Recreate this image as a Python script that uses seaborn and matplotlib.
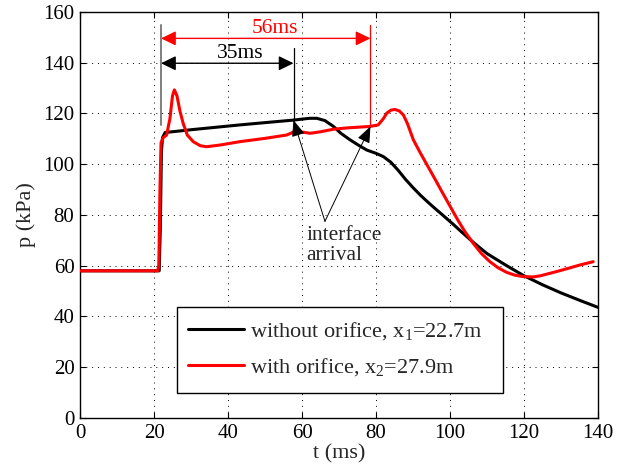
import numpy as np
import pandas as pd
import matplotlib
matplotlib.use("Agg")
import matplotlib.pyplot as plt
import seaborn as sns
from matplotlib.patches import Rectangle

# Pressure history without orifice (gauge at x1 = 22.7 m)
t_black = [0, 21.4, 21.7, 22.0, 22.3, 23.0, 30.0, 43.2, 50.0, 57.7, 59.5, 62.0, 64.0,
           66.2, 68.5, 70.5, 73.0, 75.5, 77.5, 80.0, 82.0, 84.0, 86.0, 88.0, 90.0,
           92.0, 94.0, 96.0, 98.0, 100.9, 103.0, 106.3, 110.0, 115.0, 119.8, 125.0,
           130.0, 135.0, 140.0]
p_black = [58, 58, 75, 105, 110.5, 112.5, 113.6, 115.5, 116.4, 117.4, 117.7, 118.1, 118.1,
           117.2, 114.9, 112.2, 109.6, 107.3, 105.6, 104.3, 103.0, 100.8, 97.6, 94.0, 90.8,
           87.8, 85.1, 82.5, 80.0, 76.3, 73.5, 69.2, 64.8, 60.3, 56.2, 52.5,
           49.3, 46.4, 43.6]

# Pressure history with orifice (gauge at x2 = 27.9 m)
t_red = [0, 21.0, 21.3, 21.6, 21.9, 22.5, 23.4, 24.3, 25.0, 25.5, 26.2, 27.0, 27.9, 29.0,
         30.6, 32.5, 34.2, 38.0, 43.2, 50.0, 55.8, 57.0, 57.7, 59.5, 62.2, 65.0, 68.5,
         72.0, 78.4, 80.6, 82.0, 82.9, 84.0, 85.1, 86.3, 87.4, 88.5, 90.1, 92.0, 94.0,
         96.0, 98.0, 100.0, 102.0, 104.0, 106.3, 108.5, 110.8, 113.0, 115.3, 117.5,
         119.8, 122.5, 124.3, 128.8, 132.0, 135.1, 138.7]
p_red = [58, 58, 60, 90, 108.5, 110.5, 111.5, 118, 127, 129.3, 127, 121, 116, 111.5,
         108.9, 107.3, 106.9, 107.6, 108.9, 110.2, 111.5, 112.2, 112.8, 112.8, 112.2, 112.8, 113.8,
         114.3, 114.9, 115.5, 118, 120.1, 121.3, 121.6, 121.0, 119.4, 116, 109.6, 104.4, 99.2,
         94.0, 88.7, 83.5, 78.3, 73.5, 68.8, 64.8, 61.6, 59.2, 57.4, 56.3,
         55.7, 55.6, 56.0, 57.7, 59.0, 60.3, 61.6]

labels = ["without orifice, x$_1$=22.7m", "with orifice, x$_2$=27.9m"]
x_ticks = [0, 20, 40, 60, 80, 100, 120, 140]
y_ticks = [0, 20, 40, 60, 80, 100, 120, 140, 160]

# Arrival times of the shock and the interface
t_shock = 21.9
t_if1, p_if1 = 57.7, 117.4
t_if2, p_if2 = 78.5, 114.9

sns.set_style("ticks")
plt.rcParams["font.family"] = ["Liberation Serif", "DejaVu Serif"]
plt.rcParams["mathtext.fontset"] = "custom"
plt.rcParams["mathtext.rm"] = "Liberation Serif"
plt.rcParams["mathtext.it"] = "Liberation Serif:italic"
FS = 15

df_black = pd.DataFrame({"t": t_black, "p": p_black})
df_red = pd.DataFrame({"t": t_red, "p": p_red})

fig = plt.figure(figsize=(6.17, 4.72), dpi=100)
ax = fig.add_axes([0.1297, 0.1144, 0.8395, 0.8602])

sns.lineplot(data=df_black, x="t", y="p", color="black", lw=2.2, ax=ax,
             label=labels[0], zorder=3)
sns.lineplot(data=df_red, x="t", y="p", color="red", lw=2.2, ax=ax,
             label=labels[1], zorder=4)

ax.set_xlim(0, 140)
ax.set_ylim(0, 160)
ax.set_xticks(x_ticks)
ax.set_yticks(y_ticks)
ax.set_xlabel("t (ms)", fontsize=FS + 1, labelpad=1)
ax.set_ylabel("p (kPa)", fontsize=FS + 1, labelpad=5)
ax.tick_params(direction="in", length=4, width=0.8, labelsize=FS, pad=4,
               top=True, right=True, colors="black")
for s in ax.spines.values():
    s.set_linewidth(1.0)
    s.set_color("black")
ax.grid(True, color="black", linestyle=(0, (1, 5)), linewidth=0.7)

# Vertical markers
ax.plot([t_shock, t_shock], [115.5, 155], color="#7f7f7f", lw=1.4, zorder=5)
ax.plot([t_if1, t_if1], [p_if1, 145.7], color="black", lw=0.9, zorder=5)
ax.plot([t_if2, t_if2], [p_if2, 155], color="red", lw=0.9, zorder=5)

# Duration arrows
ax.annotate("", xy=(t_shock, 149.6), xytext=(t_if2, 149.6),
            arrowprops=dict(arrowstyle="<|-|>,head_length=0.45,head_width=0.22",
                            color="red", lw=1.0, shrinkA=0, shrinkB=0,
                            mutation_scale=20), zorder=6)
ax.text(52.7, 153.6, "56ms", color="red", fontsize=FS + 0.5, ha="center", va="center")
ax.annotate("", xy=(t_shock, 139.8), xytext=(t_if1, 139.8),
            arrowprops=dict(arrowstyle="<|-|>,head_length=0.45,head_width=0.22",
                            color="black", lw=1.0, shrinkA=0, shrinkB=0,
                            mutation_scale=20), zorder=6)
ax.text(43.2, 143.8, "35ms", color="black", fontsize=FS + 0.5, ha="center", va="center")

# Interface arrival pointers
for tx, px in [(t_if1, p_if1), (t_if2, p_if2)]:
    ax.annotate("", xy=(tx, px), xytext=(66.2, 77.5),
                arrowprops=dict(arrowstyle="-|>,head_length=0.5,head_width=0.2",
                                color="black", lw=0.7, shrinkA=0, shrinkB=0,
                                mutation_scale=20), zorder=6)
ax.text(61.2, 75.5, "interface\narrival", fontsize=FS + 0.5, ha="left", va="top",
        linespacing=1.05)

# Legend box
ax.add_patch(Rectangle((0.1867, 0.0608), 0.6305, 0.2133, transform=ax.transAxes,
                       facecolor="white", edgecolor="black", lw=1.0, zorder=7))
leg = ax.legend(loc="center left", bbox_to_anchor=(0.2085, 0.17), frameon=False,
                fontsize=FS + 1, handlelength=2.5, handletextpad=0.3, labelspacing=0.65,
                borderpad=0, borderaxespad=0)
leg.set_zorder(8)

fig.savefig("out.png", dpi=100)
